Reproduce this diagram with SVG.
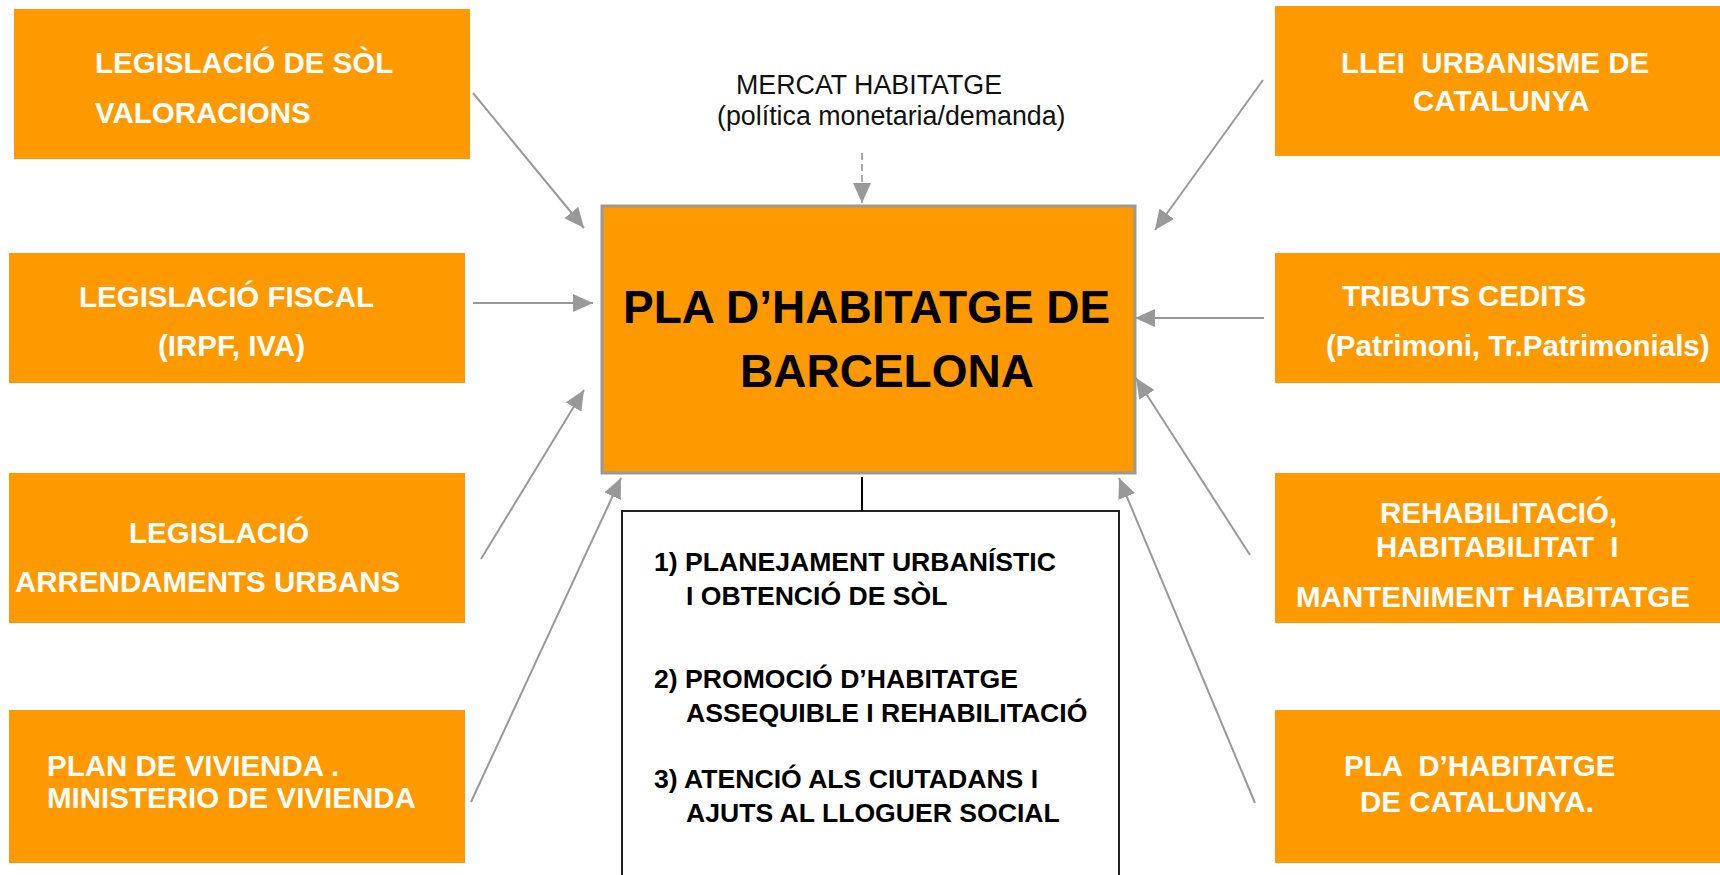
<svg xmlns="http://www.w3.org/2000/svg" width="1720" height="875" viewBox="0 0 1720 875">
<style>
.ob{fill:#FF9900;}
.wt{font-family:"Liberation Sans",Arial,sans-serif;font-weight:bold;font-size:29.5px;fill:#fff;}
.ct{font-family:"Liberation Sans",Arial,sans-serif;font-weight:bold;font-size:46px;fill:#000;}
.lt{font-family:"Liberation Sans",Arial,sans-serif;font-weight:bold;font-size:26.6px;fill:#000;}
.mt{font-family:"Liberation Sans",Arial,sans-serif;font-size:26.8px;fill:#111;}
.cn{stroke:#999;stroke-width:2;fill:none;marker-end:url(#ah);}
</style>
<defs>
<marker id="ah" viewBox="0 0 20 18" refX="20" refY="9" markerWidth="20" markerHeight="18" markerUnits="userSpaceOnUse" orient="auto">
<path d="M0,0 L20,9 L0,18 z" fill="#999"/>
</marker>
</defs>
<rect width="1720" height="875" fill="#fff"/>

<g id="n-legsol"><rect class="ob" x="14" y="9" width="456" height="150"/>
<text class="wt" x="95" y="73">LEGISLACIÓ DE SÒL</text>
<text class="wt" x="95" y="123">VALORACIONS</text></g>

<g id="n-legfiscal"><rect class="ob" x="9" y="253" width="456" height="130"/>
<text class="wt" x="79" y="307">LEGISLACIÓ FISCAL</text>
<text class="wt" x="158" y="356">(IRPF, IVA)</text></g>

<g id="n-arrend"><rect class="ob" x="9" y="473" width="456" height="150"/>
<text class="wt" x="129" y="543">LEGISLACIÓ</text>
<text class="wt" x="15" y="592">ARRENDAMENTS URBANS</text></g>

<g id="n-planviv"><rect class="ob" x="9" y="710" width="456" height="153"/>
<text class="wt" x="47" y="776">PLAN DE VIVIENDA .</text>
<text class="wt" x="47" y="808">MINISTERIO DE VIVIENDA</text></g>

<g id="n-llei"><rect class="ob" x="1275" y="6" width="445" height="150"/>
<text class="wt" x="1341" y="73" xml:space="preserve">LLEI  URBANISME DE</text>
<text class="wt" x="1413" y="111">CATALUNYA</text></g>

<g id="n-tributs"><rect class="ob" x="1275" y="253" width="445" height="130"/>
<text class="wt" x="1342" y="306">TRIBUTS CEDITS</text>
<text class="wt" x="1326" y="356">(Patrimoni, Tr.Patrimonials)</text></g>

<g id="n-rehab"><rect class="ob" x="1275" y="473" width="445" height="150"/>
<text class="wt" x="1380" y="523">REHABILITACIÓ,</text>
<text class="wt" x="1376" y="557" xml:space="preserve">HABITABILITAT  I</text>
<text class="wt" x="1296" y="607">MANTENIMENT HABITATGE</text></g>

<g id="n-placat"><rect class="ob" x="1275" y="710" width="445" height="153"/>
<text class="wt" x="1344" y="776" xml:space="preserve">PLA  D’HABITATGE</text>
<text class="wt" x="1360" y="812">DE CATALUNYA.</text></g>

<g id="n-mercat">
<text class="mt" x="736" y="94">MERCAT HABITATGE</text>
<text class="mt" x="717" y="125">(política monetaria/demanda)</text></g>

<g id="n-center"><rect x="602" y="206" width="533" height="267" fill="#FF9900" stroke="#999" stroke-width="3"/>
<text class="ct" x="623" y="323">PLA D’HABITATGE DE</text>
<text class="ct" x="740" y="387">BARCELONA</text></g>

<g id="n-list"><rect x="622" y="511" width="497" height="380" fill="#fff" stroke="#222" stroke-width="2"/>
<text class="lt" x="654" y="571">1) PLANEJAMENT URBANÍSTIC</text>
<text class="lt" x="686" y="605">I OBTENCIÓ DE SÒL</text>
<text class="lt" x="654" y="688">2) PROMOCIÓ D’HABITATGE</text>
<text class="lt" x="686" y="722">ASSEQUIBLE I REHABILITACIÓ</text>
<text class="lt" x="654" y="788">3) ATENCIÓ ALS CIUTADANS I</text>
<text class="lt" x="686" y="822">AJUTS AL LLOGUER SOCIAL</text></g>

<g id="connectors">
<line class="cn" x1="473" y1="93" x2="584" y2="228"/>
<line class="cn" x1="473" y1="303" x2="593" y2="303"/>
<line class="cn" x1="481" y1="559" x2="584" y2="390"/>
<line class="cn" x1="471" y1="802" x2="621" y2="478"/>
<line class="cn" x1="1263" y1="80" x2="1155" y2="230"/>
<line class="cn" x1="1264" y1="318" x2="1135" y2="318"/>
<line class="cn" x1="1250" y1="555" x2="1136" y2="378"/>
<line class="cn" x1="1255" y1="803" x2="1119" y2="478"/>
<line x1="862" y1="153" x2="862" y2="203" stroke="#aaa" stroke-width="2" stroke-dasharray="7,4" marker-end="url(#ah)"/>
<line x1="862" y1="477" x2="862" y2="511" stroke="#000" stroke-width="2"/>
</g>
</svg>
